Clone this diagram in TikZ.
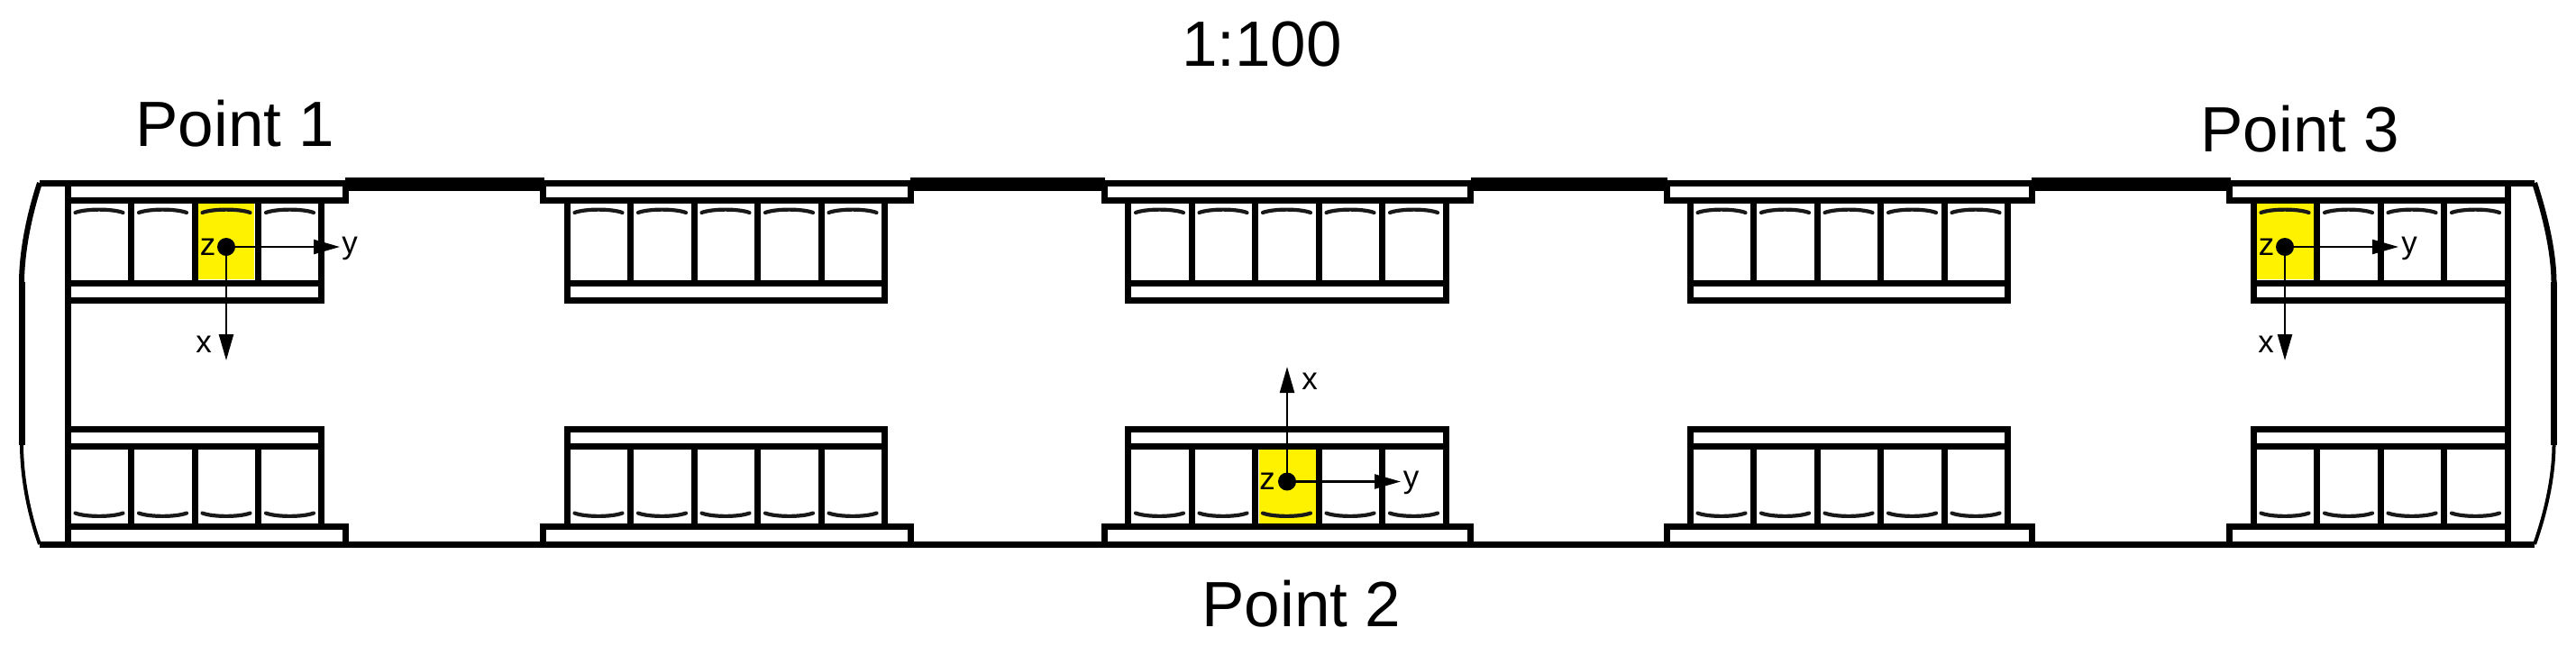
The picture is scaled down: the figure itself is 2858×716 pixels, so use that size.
\documentclass[tikz,border=0pt]{standalone}
\usepackage{fontspec}
\setmainfont{Liberation Sans}
\usetikzlibrary{arrows.meta}
\tikzset{
  wall/.style={line width=7pt,line join=miter,line cap=butt,draw=black},
  seatback/.style={line width=4.2pt,line cap=round,draw=black!90},
  hilite/.style={fill=yellow,draw=none},
  axisline/.style={line width=2.4pt,draw=black,-{Triangle[length=29pt,width=16pt]}},
  origindot/.style={circle,fill=black,inner sep=0pt,minimum size=20pt},
  biglabel/.style={anchor=base,inner sep=0pt,font=\fontsize{71}{71}\selectfont},
  smalllabel/.style={anchor=base,inner sep=0pt,font=\fontsize{35}{35}\selectfont}
}
\begin{document}
\begin{tikzpicture}[x=1pt,y=-1pt]
\useasboundingbox (0,0) rectangle (2858,716);
% highlighted seats
\fill[hilite] (219,226) rectangle (282,310);
\fill[hilite] (1397,498) rectangle (1460,581);
\fill[hilite] (2503,226) rectangle (2567,310);
% body walls
\draw[wall] (44,203) -- (2812,203);
\draw[wall] (44,604) -- (2812,604);
\draw[wall] (75,203) -- (75,604);
\draw[wall] (2782,203) -- (2782,604);
\draw[wall] (24,313) -- (24,494);
\draw[wall] (2833.5,313) -- (2833.5,494);
\draw[line width=6pt,draw=black] (44,203) .. controls (32,240) and (24,280) .. (24,315);
\draw[line width=4pt,draw=black] (24,492) .. controls (24,530) and (32,570) .. (44,604);
\draw[line width=6pt,draw=black] (2812,203) .. controls (2824,240) and (2833.5,280) .. (2833.5,315);
\draw[line width=4pt,draw=black] (2833.5,492) .. controls (2833.5,530) and (2824,570) .. (2812,604);
% doors
\foreach \dl/\dr in {383/604,1010/1226,1632/1850,2254/2475}{
  \fill[black] (\dl,197) rectangle (\dr,212);
}
% seat blocks: pocket left/right, block left/right, seats
\foreach \pl/\pr/\bl/\br/\n in {75/383/75/356/4,602/1010/629/981.5/5,1225/1631/1251.5/1604/5,1849/2254/1875/2227.5/5,2473/2782/2500/2782/4}{
  % upper row
  \draw[wall] (\pl,203) |- (\pr,222) -- (\pr,203);
  \draw[wall] (\bl,222) -- (\bl,333) -- (\br,333) -- (\br,222);
  \draw[wall] (\bl,314) -- (\br,314);
  % lower row
  \draw[wall] (\pl,604) |- (\pr,584) -- (\pr,604);
  \draw[wall] (\bl,584) -- (\bl,476) -- (\br,476) -- (\br,584);
  \draw[wall] (\bl,495) -- (\br,495);
  \foreach \i in {1,...,\n}{
    \ifnum\i<\n
      \draw[wall] (\bl+70.5*\i,222) -- (\bl+70.5*\i,314);
      \draw[wall] (\bl+70.5*\i,495) -- (\bl+70.5*\i,584);
    \fi
    \draw[seatback] (\bl+70.5*\i-62,236) .. controls (\bl+70.5*\i-50,231.5) and (\bl+70.5*\i-21,231.5) .. (\bl+70.5*\i-9,236);
    \draw[seatback] (\bl+70.5*\i-62,569.5) .. controls (\bl+70.5*\i-50,574) and (\bl+70.5*\i-21,574) .. (\bl+70.5*\i-9,569.5);
  }
}
% point 1
\node[origindot] (oa) at (251,274) {};
\coordinate (xa) at (251,400);
\coordinate (ya) at (377,274);
\draw[axisline] (oa.center) -- (xa);
\draw[axisline] (oa.center) -- (ya);
\node[smalllabel] (za) at (230.5,283) {z};
\node[smalllabel] (lxa) at (226,391.5) {x};
\node[smalllabel] (lya) at (388,281) {y};
% point 2
\node[origindot] (ob) at (1428,534.5) {};
\coordinate (xb) at (1428,407);
\coordinate (yb) at (1554,534.5);
\draw[axisline] (ob.center) -- (xb);
\draw[axisline] (ob.center) -- (yb);
\node[smalllabel] (zb) at (1406,543) {z};
\node[smalllabel] (lxb) at (1453,432) {x};
\node[smalllabel] (lyb) at (1565.5,541) {y};
% point 3
\node[origindot] (oc) at (2535,274) {};
\coordinate (xc) at (2535,400);
\coordinate (yc) at (2661,274);
\draw[axisline] (oc.center) -- (xc);
\draw[axisline] (oc.center) -- (yc);
\node[smalllabel] (zc) at (2514.5,283) {z};
\node[smalllabel] (lxc) at (2514,391.5) {x};
\node[smalllabel] (lyc) at (2673,281) {y};
% titles
\node[biglabel] (scale) at (1400,73) {1:100};
\node[biglabel] (pa) at (261,162) {Point 1};
\node[biglabel] (pb) at (1444,695) {Point 2};
\node[biglabel] (pc) at (2552,168) {Point 3};
\end{tikzpicture}
\end{document}
